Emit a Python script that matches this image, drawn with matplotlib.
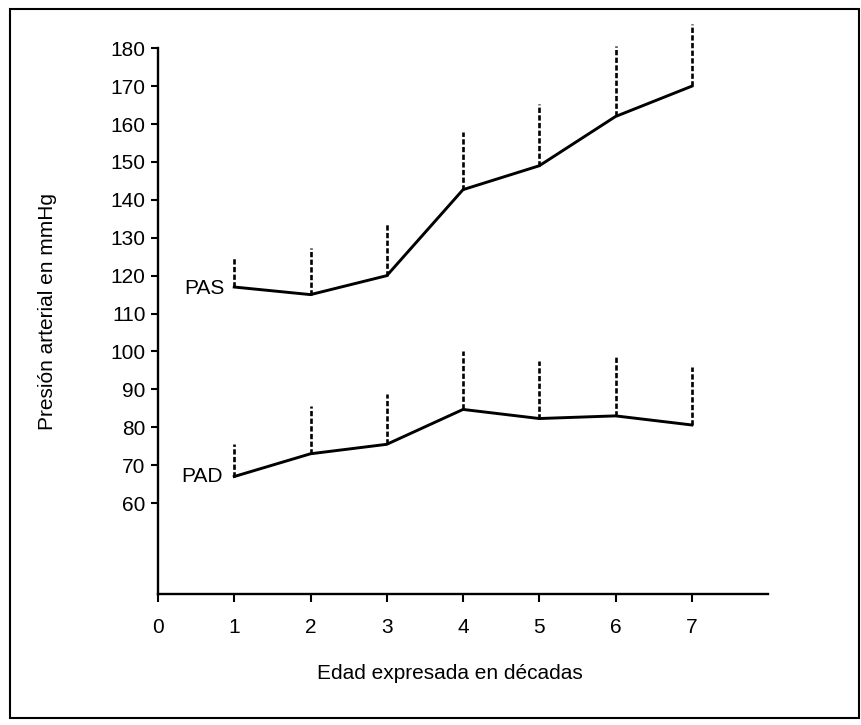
import matplotlib
matplotlib.use("Agg")
import matplotlib.pyplot as plt
from matplotlib.patches import Rectangle

# Valores
decadas = [1, 2, 3, 4, 5, 6, 7]
pas_media = [117, 115, 120, 142.7, 149, 162, 170]
pas_sup = [125, 127.3, 134, 158, 165.4, 180.5, 186.5]
pad_media = [67, 73, 75.5, 84.7, 82.3, 83, 80.6]
pad_sup = [75.5, 85.7, 88.7, 100, 97.4, 99, 96]
yticks = [60, 70, 80, 90, 100, 110, 120, 130, 140, 150, 160, 170, 180]
xticks = [0, 1, 2, 3, 4, 5, 6, 7]

plt.rcParams['font.family'] = ['Liberation Sans', 'DejaVu Sans']

fig = plt.figure(figsize=(8.62, 7.25), dpi=100)
ax = fig.add_axes([0.1833, 0.1807, 0.7077, 0.7527])

# lineas de las medias
ax.plot(decadas, pas_media, color='black', lw=2.1, solid_joinstyle='miter')
ax.plot(decadas, pad_media, color='black', lw=2.1, solid_joinstyle='miter')

# desviaciones hacia arriba, discontinuas
for x, m, s in zip(decadas, pas_media, pas_sup):
    ax.plot([x, x], [m, s], color='black', lw=1.9, linestyle=(0, (2, 0.9)), clip_on=False)
for x, m, s in zip(decadas, pad_media, pad_sup):
    ax.plot([x, x], [m, s], color='black', lw=1.9, linestyle=(0, (2, 0.9)), clip_on=False)

ax.text(0.87, pas_media[0] - 0.3, 'PAS', ha='right', va='center', fontsize=15)
ax.text(0.85, pad_media[0], 'PAD', ha='right', va='center', fontsize=15)

ax.set_xlim(0, 8)
ax.set_ylim(36, 180)
ax.set_xticks(xticks)
ax.set_yticks(yticks)
ax.tick_params(axis='x', direction='out', length=6, width=1.5, pad=11, labelsize=15)
ax.tick_params(axis='y', direction='out', length=5, width=1.5, pad=4, labelsize=15)

for side in ['top', 'right']:
    ax.spines[side].set_visible(False)
for side in ['left', 'bottom']:
    ax.spines[side].set_linewidth(1.7)

ax.set_xlabel('Edad expresada en décadas', fontsize=15)
ax.xaxis.set_label_coords(0.478, -0.128)
ax.set_ylabel('Presión arterial en mmHg', fontsize=15)
ax.yaxis.set_label_coords(-0.165, 0.517)

# marco de la figura
fig.patches.append(Rectangle((0.0116, 0.009), 0.985, 0.978, transform=fig.transFigure,
                             fill=False, edgecolor='black', lw=1.5))

fig.savefig('out.png', dpi=100)
